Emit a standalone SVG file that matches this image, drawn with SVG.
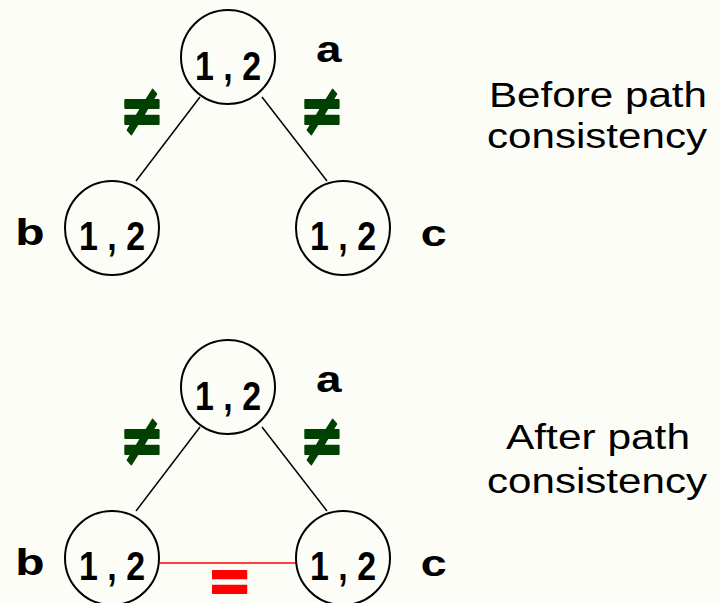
<svg xmlns="http://www.w3.org/2000/svg" width="719" height="603" viewBox="0 0 719 603">
<style>
.node{fill:none;stroke:#000;stroke-width:2}
.val{font-family:"Liberation Sans",Arial,sans-serif;font-weight:bold;font-size:40px;fill:#000}
.lbl{font-family:"Liberation Mono","Courier New",monospace;font-weight:bold;font-size:36px;fill:#000}
.neq{font-family:"DejaVu Sans",sans-serif;font-weight:bold;font-size:54px;fill:#004000;stroke:#004000;stroke-width:1.5;stroke-linejoin:round;text-anchor:middle}
.cap{font-family:"Liberation Sans",Arial,sans-serif;font-size:35px;fill:#000}
.edge{stroke:#000;stroke-width:1.5}
.eq{stroke:#ff0000;stroke-width:1.5}
.eqt{font-family:"DejaVu Sans",sans-serif;font-weight:bold;font-size:54px;fill:#ff0000;stroke:#ff0000;stroke-width:1.5;stroke-linejoin:round;text-anchor:middle}
</style>
<rect width="719" height="603" fill="#fdfdf8"/>
<g id="connectors">
<line class="edge" x1="200" y1="97" x2="136" y2="181"/>
<line class="edge" x1="262" y1="97" x2="327" y2="181"/>
<line class="edge" x1="200" y1="427" x2="136" y2="511"/>
<line class="edge" x1="262" y1="427" x2="327" y2="511"/>
<line class="eq" x1="160" y1="563" x2="296" y2="563"/>
<text class="neq" transform="translate(142,111) scale(1,1.3)" x="0" y="18">≠</text>
<text class="neq" transform="translate(322,111) scale(1,1.3)" x="0" y="18">≠</text>
<text class="neq" transform="translate(142,441) scale(1,1.3)" x="0" y="18">≠</text>
<text class="neq" transform="translate(322,441) scale(1,1.3)" x="0" y="18">≠</text>
<text class="eqt" transform="translate(229.5,590) scale(1,1.2)" x="0" y="10">=</text>
</g>
<g id="node-a1"><circle class="node" cx="228" cy="57" r="47"/><text class="val" x="195" y="80" textLength="66" lengthAdjust="spacingAndGlyphs">1 , 2</text><text class="lbl" x="315" y="62" textLength="28" lengthAdjust="spacingAndGlyphs">a</text></g>
<g id="node-b1"><circle class="node" cx="112" cy="228" r="47"/><text class="val" x="79" y="250" textLength="66" lengthAdjust="spacingAndGlyphs">1 , 2</text><text class="lbl" x="15" y="245" textLength="30" lengthAdjust="spacingAndGlyphs">b</text></g>
<g id="node-c1"><circle class="node" cx="343" cy="228" r="47"/><text class="val" x="310" y="250" textLength="66" lengthAdjust="spacingAndGlyphs">1 , 2</text><text class="lbl" x="420" y="246" textLength="28" lengthAdjust="spacingAndGlyphs">c</text></g>
<g id="node-a2"><circle class="node" cx="228" cy="387" r="47"/><text class="val" x="195" y="410" textLength="66" lengthAdjust="spacingAndGlyphs">1 , 2</text><text class="lbl" x="315" y="392" textLength="28" lengthAdjust="spacingAndGlyphs">a</text></g>
<g id="node-b2"><circle class="node" cx="112" cy="558" r="47"/><text class="val" x="79" y="580" textLength="66" lengthAdjust="spacingAndGlyphs">1 , 2</text><text class="lbl" x="15" y="575" textLength="30" lengthAdjust="spacingAndGlyphs">b</text></g>
<g id="node-c2"><circle class="node" cx="343" cy="558" r="47"/><text class="val" x="310" y="580" textLength="66" lengthAdjust="spacingAndGlyphs">1 , 2</text><text class="lbl" x="420" y="576" textLength="28" lengthAdjust="spacingAndGlyphs">c</text></g>
<g id="caption-before"><text class="cap" x="489" y="107" textLength="218" lengthAdjust="spacingAndGlyphs">Before path</text><text class="cap" x="487" y="148" textLength="220" lengthAdjust="spacingAndGlyphs">consistency</text></g>
<g id="caption-after"><text class="cap" x="506" y="449" textLength="184" lengthAdjust="spacingAndGlyphs">After path</text><text class="cap" x="487" y="493" textLength="220" lengthAdjust="spacingAndGlyphs">consistency</text></g>
</svg>
